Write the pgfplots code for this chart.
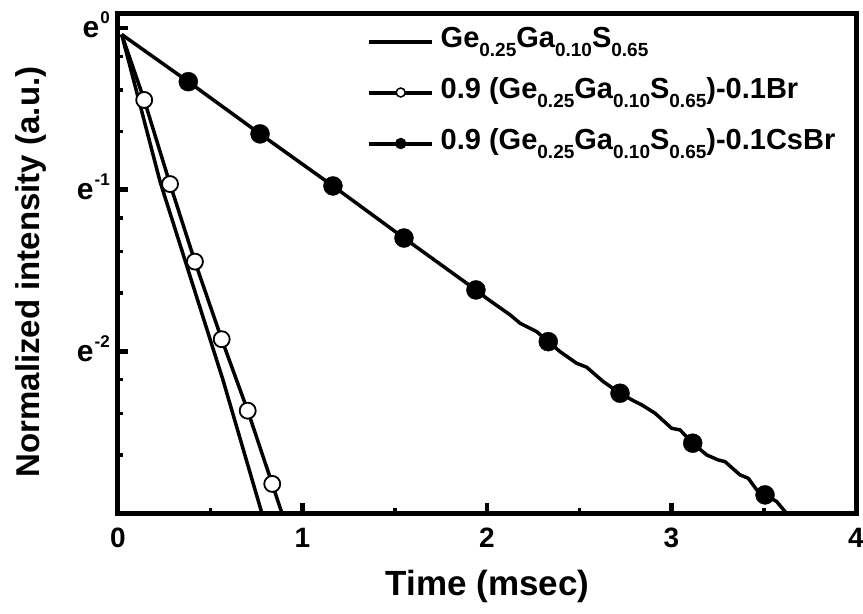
\documentclass[border=0pt]{standalone}
\usepackage{fontspec}
\setmainfont{Liberation Sans}
\usepackage{pgfplots}
\pgfplotsset{compat=1.18}
\newcommand\sub[1]{\raisebox{-9pt}{\fontsize{19}{19}\selectfont #1}}
\newcommand\ee[1]{{\fontsize{30}{30}\selectfont e}\kern1pt\raisebox{14pt}{\fontsize{17}{17}\selectfont #1}}
\begin{document}
\begin{tikzpicture}
\begin{axis}[name=ax,
  scale only axis, width=738pt, height=500pt,
  xmin=0, xmax=4, ymin=0.049787, ymax=1.0972,
  ymode=log,
  xtick={0,1,2,3,4}, xticklabels={0,1,2,3,4},
  minor xtick={0.5,1.5,2.5,3.5},
  ytick={1,0.367879,0.135335}, yticklabels={\ee{0},\ee{-1},\ee{-2}},
  minor ytick={0.83946,0.68181,0.52729,0.30882,0.25082,0.19398,0.11361,0.09227,0.07136},
  tick pos=left, tick align=inside,
  major tick length=10pt, minor tick length=5pt,
  every major tick/.append style={line width=4.5pt, black},
  every minor tick/.append style={line width=3.5pt, black},
  axis line style={line width=5pt},
  tick label style={font=\fontsize{28}{28}\selectfont\bfseries},
  xticklabel style={inner sep=0pt, anchor=north, yshift=-15pt},
  yticklabel style={inner sep=0pt, anchor=base east, xshift=-8pt, yshift=-10pt},
  xlabel={Time (msec)},
  ylabel={Normalized intensity (a.u.)},
  every axis x label/.style={at={(axis description cs:0.501,-0.164)}, anchor=base, font=\fontsize{35}{35}\selectfont\bfseries},
  every axis y label/.style={at={(axis description cs:-0.1057,0.482)}, rotate=90, anchor=base, font=\fontsize{33}{33}\selectfont\bfseries},
  legend style={at={(axis description cs:0.337,0.976)}, anchor=north west, draw=none, fill=none,
    inner sep=0pt, outer sep=0pt, row sep=18pt, column sep=7pt,
    font=\fontsize{29}{29}\selectfont\bfseries,
    nodes={inner sep=0pt, text height=22pt, text depth=11pt}},
  legend cell align=left,
]
% Ge0.25Ga0.10S0.65
\addplot[black, line width=3.5pt, line join=round, forget plot] coordinates {
  (0.02,0.9608) (0.228,0.38674) (0.569,0.11338) (0.79,0.0478)};
% 0.9(...)-0.1Br line
\addplot[black, line width=3.5pt, line join=round, forget plot] coordinates {
  (0.02,0.9608) (0.142,0.64083) (0.282,0.38098) (0.417,0.23575) (0.562,0.14588)
  (0.703,0.093762) (0.836,0.059606) (0.90,0.0478)};
\addplot[only marks, mark=*, mark size=8pt, mark options={fill=white, draw=black, line width=1.8pt}, forget plot] coordinates {
  (0.142,0.64083) (0.282,0.38098) (0.417,0.23575) (0.562,0.14588)
  (0.703,0.093762) (0.836,0.059606)};
% 0.9(...)-0.1CsBr line
\addplot[black, line width=3.5pt, line join=round, forget plot] coordinates {
  (0.02,0.9608) (0.381,0.71749) (0.770,0.51944) (1.165,0.37644) (1.550,0.27280)
  (1.940,0.19790) (1.998,0.18787) (2.125,0.16965) (2.179,0.16106) (2.269,0.15290)
  (2.332,0.14370) (2.396,0.13506) (2.486,0.12568) (2.540,0.12270) (2.630,0.11225)
  (2.721,0.10445) (2.793,0.09976) (2.838,0.09720) (2.911,0.09227) (3.001,0.08408)
  (3.046,0.08324) (3.115,0.07669) (3.191,0.07129) (3.254,0.06911) (3.290,0.06843)
  (3.371,0.06304) (3.416,0.06173) (3.462,0.05744) (3.507,0.05569) (3.570,0.05345)
  (3.615,0.05024) (3.63,0.04832)};
\addplot[only marks, mark=*, mark size=9.5pt, mark options={fill=black, draw=black}, forget plot] coordinates {
  (0.381,0.71749) (0.770,0.51944) (1.165,0.37644) (1.550,0.27280) (1.940,0.19790)
  (2.332,0.14370) (2.721,0.10445) (3.115,0.07669) (3.507,0.05569)};
\addlegendimage{legend image code/.code={\draw[black, line width=4pt] (0pt,0pt)--(63pt,0pt);}}
\addlegendentry{Ge\sub{0.25}Ga\sub{0.10}S\sub{0.65}}
\addlegendimage{legend image code/.code={\draw[black, line width=4pt] (0pt,0pt)--(63pt,0pt);
  \draw[black, fill=white, line width=1.5pt] (32pt,0pt) circle (4.5pt);}}
\addlegendentry{0.9 (Ge\sub{0.25}Ga\sub{0.10}S\sub{0.65})-0.1Br}
\addlegendimage{legend image code/.code={\draw[black, line width=4pt] (0pt,0pt)--(63pt,0pt);
  \fill[black] (32pt,0pt) circle (5.5pt);}}
\addlegendentry{0.9 (Ge\sub{0.25}Ga\sub{0.10}S\sub{0.65})-0.1CsBr}
\end{axis}
\pgfresetboundingbox
\path[use as bounding box] ([shift={(-118pt,-100pt)}]ax.south west) rectangle ([shift={(7pt,13pt)}]ax.north east);
\end{tikzpicture}
\end{document}
